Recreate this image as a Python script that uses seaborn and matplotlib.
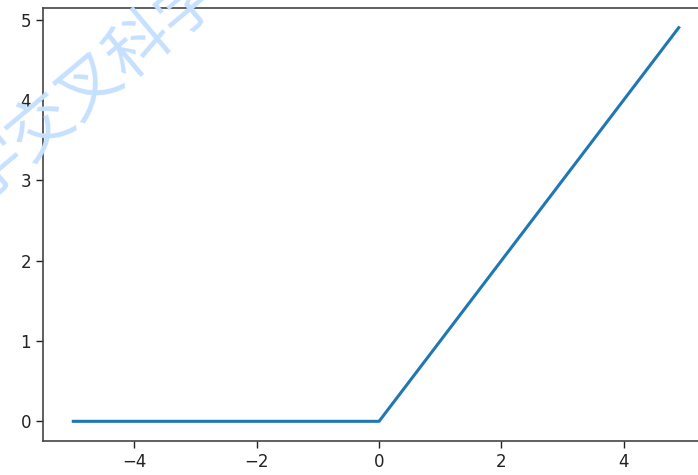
import matplotlib
matplotlib.use("Agg")
import matplotlib.pyplot as plt
import seaborn as sns
import pandas as pd

# ReLU curve, corner points
x_vals = [-5.0, 0.0, 4.9]
y_vals = [0.0, 0.0, 4.9]

x_ticks = [-4, -2, 0, 2, 4]
y_ticks = [0, 1, 2, 3, 4, 5]

df = pd.DataFrame({"x": x_vals, "y": y_vals})

fig = plt.figure(figsize=(6.98, 4.75), dpi=100)
# right spine sits just outside the picture in the reference
ax = fig.add_axes([43 / 698, 1 - 441 / 475, 666 / 698, 433 / 475])

sns.lineplot(data=df, x="x", y="y", ax=ax, color="#1f77b4", linewidth=2.2)

ax.set_xticks(x_ticks)
ax.set_yticks(y_ticks)
ax.set_xticklabels(["\u2212" + str(-t) if t < 0 else str(t) for t in x_ticks])
ax.set_xlabel("")
ax.set_ylabel("")
ax.tick_params(labelsize=12, length=5, width=1, colors="#222222")
for s in ax.spines.values():
    s.set_color("#444444")
    s.set_linewidth(1.2)

# watermark
fig.text(90 / 698, 1 - 85 / 475, "学交叉科学", rotation=40, fontsize=46,
         color="#c6e0ff", ha="center", va="center",
         family=["Noto Sans CJK SC", "DejaVu Sans"], zorder=0)

fig.savefig("out.png", dpi=100)
